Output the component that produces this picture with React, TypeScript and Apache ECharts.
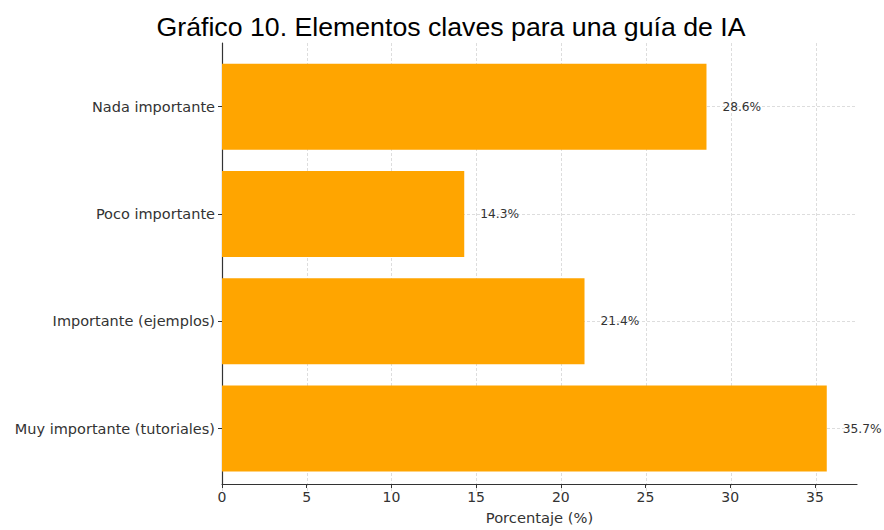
import React, { useEffect, useRef } from "react";
import * as echarts from "echarts";

const title = "Gráfico 10. Elementos claves para una guía de IA";
const categories = [
  "Nada importante",
  "Poco importante",
  "Importante (ejemplos)",
  "Muy importante (tutoriales)",
];
const values = [28.6, 14.3, 21.4, 35.7];
const xTicks = [0, 5, 10, 15, 20, 25, 30, 35];
const xName = "Porcentaje (%)";
const xMax = 37.485;

export default function App() {
  const ref = useRef<HTMLDivElement>(null);
  useEffect(() => {
    document.body.style.margin = "0";
    const chart = echarts.init(ref.current!, null, { renderer: "svg" });
    const font = "DejaVu Sans";
    const dash = { color: "#d4d4d4", type: [3, 2] as any, width: 0.8 };
    chart.setOption({
      animation: false,
      title: {
        text: title,
        left: 446,
        textAlign: "center",
        top: 8,
        textStyle: { fontFamily: "Liberation Sans", fontSize: 26.7, fontWeight: "normal", color: "#000" },
      },
      grid: [
        { left: 222, right: 27, top: 43, bottom: 38 },
        { left: 222, right: 27, top: 106.7, bottom: 101.4 },
        { left: 222, right: 68, top: 43, bottom: 38 },
      ],
      xAxis: [
        {
          gridIndex: 0,
          type: "value",
          min: 0,
          max: xMax,
          interval: 5,
          axisLine: { show: true, lineStyle: { color: "#333", width: 1.2 } },
          axisTick: { show: true, length: 4, customValues: xTicks, lineStyle: { color: "#333" } },
          axisLabel: { customValues: xTicks, fontFamily: font, fontSize: 14, color: "#333", margin: 6 },
          splitLine: { show: false },
          name: xName,
          nameLocation: "middle",
          nameGap: 26,
          nameTextStyle: { fontFamily: font, fontSize: 14.7, color: "#333" },
        },
        {
          gridIndex: 1,
          type: "value",
          min: 0,
          max: xMax,
          show: false,
        },
        {
          gridIndex: 2,
          type: "value",
          min: 0,
          max: 35,
          interval: 5,
          axisLine: { show: false },
          axisTick: { show: false },
          axisLabel: { show: false },
          splitLine: { show: true, lineStyle: dash },
        },
      ],
      yAxis: [
        {
          gridIndex: 0,
          type: "value",
          min: 0,
          max: 1,
          axisLine: { show: true, lineStyle: { color: "#333", width: 1.2 } },
          axisTick: { show: false },
          axisLabel: { show: false },
          splitLine: { show: false },
        },
        {
          gridIndex: 1,
          type: "category",
          data: categories,
          inverse: true,
          boundaryGap: false,
          axisLine: { show: false },
          axisTick: { show: true, length: 4, lineStyle: { color: "#333" } },
          axisLabel: { fontFamily: font, fontSize: 14.5, color: "#333", margin: 7 },
          splitLine: { show: true, lineStyle: dash },
        },
        {
          gridIndex: 2,
          type: "value",
          show: false,
        },
      ],
      series: [
        {
          type: "bar",
          xAxisIndex: 1,
          yAxisIndex: 1,
          data: values,
          barWidth: 86,
          clip: false,
          itemStyle: { color: "#FFA500" },
          label: {
            show: true,
            position: "right",
            distance: 16,
            formatter: (p: any) => `${p.value.toFixed(1)}%`,
            fontFamily: font,
            fontSize: 12.2,
            color: "#333",
          },
        },
      ],
    });
    return () => chart.dispose();
  }, []);
  return <div ref={ref} style={{ width: 884, height: 530 }} />;
}
